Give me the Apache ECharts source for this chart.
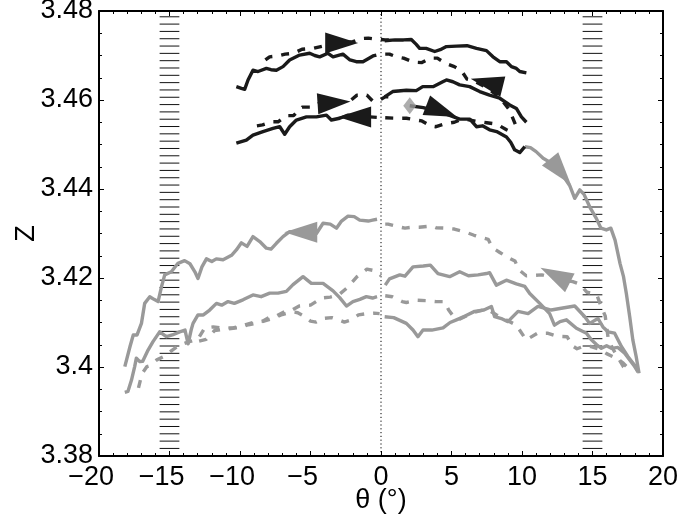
<!DOCTYPE html>
<html>
<head>
<meta charset="utf-8">
<script src="https://cdn.jsdelivr.net/npm/echarts@6/dist/echarts.min.js"></script>
<style>
html,body{margin:0;padding:0;background:#fff;}
#chart{width:700px;height:521px;}
</style>
</head>
<body>
<div id="chart"></div>
<script>
// ---------- data ----------
const xTicks = [-20, -15, -10, -5, 0, 5, 10, 15, 20];
const yTicks = [3.38, 3.40, 3.42, 3.44, 3.46, 3.48];

// black group (upper)
const upperLeftSolid = [[-10.26,3.4630],[-9.9,3.4626],[-9.67,3.4624],[-9.43,3.4645],[-9.08,3.4667],[-8.72,3.4664],[-8.13,3.4671],[-7.8,3.4668],[-7.42,3.4667],[-6.95,3.4675],[-6.48,3.4690],[-5.77,3.4701],[-5.06,3.4705],[-4.7,3.4700],[-4.35,3.4697],[-3.76,3.4705],[-3.4,3.4697],[-2.7,3.4703],[-2.2,3.4690],[-1.75,3.4686],[-1.28,3.4686],[-0.57,3.4699],[-0.33,3.4701]];
const upperLeftDashed = [[-8.2,3.4690],[-7.9,3.4697],[-7.3,3.4699],[-6.8,3.4703],[-6.2,3.4705],[-5.6,3.4714],[-4.8,3.4716],[-4.0,3.4722],[-3.0,3.4727],[-2.0,3.4731],[-1.4,3.4738],[-0.9,3.4739],[-0.4,3.4737],[0.3,3.4735],[0.6,3.4735]];
const upperRightSolid = [[0.26,3.4733],[1.0,3.4735],[1.6,3.4735],[2.15,3.4736],[2.5,3.4725],[2.74,3.4716],[3.2,3.4716],[3.81,3.4709],[4.2,3.4713],[4.64,3.4720],[5.35,3.4721],[6.1,3.4722],[6.77,3.4716],[7.48,3.4711],[7.94,3.4697],[8.42,3.4686],[8.9,3.4686],[9.25,3.4675],[9.6,3.4671],[9.84,3.4664],[10.31,3.4661]];
const upperRightDashed = [[0.3,3.4703],[0.6,3.4703],[1.1,3.4697],[1.6,3.4694],[2.3,3.4685],[2.9,3.4684],[3.5,3.4694],[4.0,3.4694],[4.6,3.4682],[5.2,3.4675],[5.7,3.4666],[6.1,3.4647],[6.5,3.4644],[7.5,3.4628],[8.4,3.4607],[9.1,3.4578],[9.6,3.4540]];

// black group (middle)
const midLeftSolid = [[-10.26,3.4503],[-9.55,3.4510],[-9.08,3.4521],[-8.37,3.4529],[-7.66,3.4536],[-7.18,3.4540],[-6.83,3.4523],[-6.48,3.4540],[-6.0,3.4555],[-5.29,3.4562],[-4.58,3.4562],[-3.87,3.4566],[-3.52,3.4555],[-2.93,3.4559],[-2.34,3.4566],[-1.5,3.4562],[-0.8,3.4562],[-0.3,3.4561]];
const midLeftDashed = [[-8.8,3.4542],[-8.4,3.4544],[-7.7,3.4551],[-7.3,3.4551],[-6.7,3.4565],[-6.2,3.4565],[-5.6,3.4584],[-4.9,3.4584],[-4.4,3.4592],[-3.0,3.4595],[-2.2,3.4598],[-1.7,3.4611],[-1.0,3.4611],[-0.6,3.4598],[-0.2,3.4598],[0.3,3.4607],[0.6,3.4607]];
const midRightSolid = [[0.26,3.4607],[0.83,3.4619],[1.8,3.4622],[2.5,3.4621],[2.96,3.4630],[3.69,3.4630],[4.38,3.4641],[4.64,3.4645],[5.1,3.4641],[5.58,3.4634],[6.29,3.4630],[7.0,3.4619],[7.7,3.4611],[8.42,3.4604],[9.13,3.4589],[9.6,3.4581],[9.96,3.4562],[10.31,3.4550]];
const midRightDashed = [[0.3,3.4560],[1.2,3.4559],[1.8,3.4559],[2.5,3.4555],[2.9,3.4553],[3.5,3.4542],[3.9,3.4540],[4.6,3.4547],[5.2,3.4550],[5.6,3.4555],[6.1,3.4556],[6.8,3.4552],[7.5,3.4549],[8.2,3.4546],[8.9,3.4533],[9.4,3.4526]];
const lowBlackSolid = [[2.04,3.4587],[3.0,3.4583],[4.3,3.4572],[5.58,3.4557],[6.3,3.4557],[6.77,3.4540],[7.2,3.4542],[7.7,3.4533],[8.2,3.4529],[8.9,3.4517],[9.2,3.4505],[9.48,3.4488],[9.84,3.4482],[10.2,3.4495]];

// gray group
const grayDescent = [[10.2,3.4495],[10.6,3.4493],[11.0,3.4484],[11.5,3.4469],[12.1,3.4458],[12.7,3.4440],[13.38,3.4408],[13.74,3.4379],[14.1,3.4398],[14.4,3.4388],[14.8,3.4360],[15.27,3.4334],[15.6,3.4312],[15.98,3.4308],[16.3,3.4312],[16.6,3.4285],[16.95,3.4233],[17.2,3.4203],[17.4,3.4165],[17.64,3.4113],[17.86,3.4061],[18.1,3.4023],[18.3,3.3986]];
const grayLeftTop = [[-18.17,3.4001],[-17.8,3.4046],[-17.57,3.4072],[-17.3,3.4072],[-16.99,3.4098],[-16.76,3.4143],[-16.4,3.4158],[-16.1,3.4152],[-15.81,3.4147],[-15.57,3.4180],[-15.34,3.4207],[-14.87,3.4214],[-14.4,3.4233],[-13.93,3.4239],[-13.55,3.4232],[-13.2,3.4214],[-12.98,3.4199],[-12.7,3.4225],[-12.38,3.4243],[-12.0,3.4237],[-11.68,3.4243],[-11.2,3.4241],[-10.6,3.4251],[-10.26,3.4263],[-9.9,3.4279],[-9.5,3.4271],[-9.08,3.4293],[-8.6,3.4282],[-8.13,3.4267],[-7.8,3.4265],[-7.42,3.4278],[-6.95,3.4293],[-6.48,3.4304],[-5.5,3.4302],[-4.58,3.4300],[-4.11,3.4323],[-3.6,3.4321],[-3.16,3.4312],[-2.8,3.4328],[-2.34,3.4339],[-1.9,3.4338],[-1.51,3.4330],[-0.9,3.4328],[-0.6,3.4330],[-0.28,3.4332]];
const grayLeftLow = [[-18.17,3.3943],[-17.95,3.3945],[-17.7,3.3970],[-17.47,3.4001],[-17.35,3.4020],[-17.11,3.4012],[-16.9,3.4013],[-16.52,3.4038],[-16.17,3.4057],[-15.7,3.4079],[-15.22,3.4068],[-14.8,3.4072],[-14.28,3.4079],[-13.9,3.4083],[-13.68,3.4052],[-13.45,3.4085],[-13.33,3.4098],[-12.98,3.4117],[-12.6,3.4117],[-12.15,3.4128],[-11.67,3.4143],[-11.3,3.4139],[-10.85,3.4147],[-10.4,3.4143],[-9.79,3.4151],[-9.08,3.4162],[-8.5,3.4158],[-7.89,3.4166],[-7.3,3.4166],[-6.71,3.4170],[-6.24,3.4185],[-5.53,3.4203],[-4.94,3.4188],[-4.11,3.4188],[-3.4,3.4171],[-2.93,3.4156],[-2.45,3.4137],[-1.99,3.4147],[-1.5,3.4152],[-1.04,3.4158],[-0.6,3.4155],[-0.28,3.4158]];
const grayLeftDashedA = [[-17.2,3.3953],[-16.95,3.3985],[-16.6,3.4001],[-16.4,3.4003],[-15.9,3.4016],[-15.3,3.4025],[-14.8,3.4038],[-14.3,3.4049],[-13.7,3.4056],[-13.0,3.4062],[-12.5,3.4088],[-11.9,3.4090],[-11.3,3.4088],[-10.5,3.4088],[-9.7,3.4094],[-9.0,3.4101],[-8.4,3.4103],[-7.9,3.4112],[-7.4,3.4115],[-6.8,3.4125],[-6.3,3.4128],[-5.8,3.4137],[-5.0,3.4139],[-4.2,3.4155],[-3.6,3.4157],[-3.0,3.4162],[-2.4,3.4178],[-1.7,3.4203],[-1.0,3.4220],[-0.4,3.4216],[0.0,3.4205]];
const grayLeftDashedB = [[-12.9,3.4058],[-12.4,3.4062],[-11.8,3.4082],[-11.0,3.4085],[-10.2,3.4088],[-9.4,3.4095],[-8.6,3.4100],[-7.8,3.4108],[-7.0,3.4118],[-6.3,3.4124],[-5.9,3.4122],[-5.5,3.4115],[-5.0,3.4103],[-4.6,3.4101],[-4.1,3.4109],[-3.5,3.4111],[-3.0,3.4106],[-2.6,3.4101],[-2.1,3.4106],[-1.6,3.4117],[-1.0,3.4120],[-0.5,3.4121],[-0.1,3.4120]];
const grayRightDashedTop = [[0.3,3.4321],[0.5,3.4321],[1.1,3.4316],[1.7,3.4312],[2.2,3.4314],[2.7,3.4314],[3.6,3.4317],[3.9,3.4313],[4.6,3.4312],[5.2,3.4310],[6.1,3.4302],[6.6,3.4296],[7.1,3.4291],[7.6,3.4287],[7.9,3.4268],[8.4,3.4258],[8.9,3.4248],[9.5,3.4238],[9.8,3.4218],[10.3,3.4205],[11.4,3.4207],[12.5,3.4198],[13.6,3.4192],[14.1,3.4186],[14.6,3.4168],[15.3,3.4163],[15.6,3.4137],[15.9,3.4115],[16.1,3.4067],[16.4,3.4043],[16.8,3.4022],[17.2,3.4000],[17.5,3.3992]];
const grayRightDashedLow = [[0.3,3.4160],[0.8,3.4158],[1.5,3.4147],[1.8,3.4145],[2.5,3.4150],[3.2,3.4149],[3.9,3.4147],[4.5,3.4147],[4.8,3.4128],[5.2,3.4111],[5.6,3.4108],[6.5,3.4122],[7.5,3.4130],[8.2,3.4117],[9.0,3.4104],[9.6,3.4094],[10.3,3.4061],[11.1,3.4076],[11.8,3.4076],[12.5,3.4069],[13.2,3.4068],[13.6,3.4047],[13.9,3.4041],[14.4,3.4047],[14.9,3.4046],[15.5,3.4040],[16.0,3.4030],[16.8,3.4018],[17.2,3.4008],[17.6,3.3995]];
const grayRightSolidA = [[0.3,3.4184],[0.6,3.4198],[1.33,3.4207],[1.7,3.4204],[2.27,3.4225],[3.0,3.4227],[3.5,3.4229],[4.04,3.4210],[4.87,3.4203],[5.58,3.4214],[6.2,3.4205],[6.88,3.4207],[7.48,3.4210],[7.7,3.4212],[8.18,3.4184],[8.89,3.4195],[9.6,3.4187],[10.2,3.4181],[10.55,3.4165],[11.26,3.4143],[11.96,3.4120],[12.3,3.4094],[12.7,3.4102],[13.15,3.4106],[13.86,3.4087],[14.57,3.4076],[14.92,3.4061],[15.3,3.4050],[15.63,3.4042],[16.0,3.4048],[16.34,3.4042],[16.8,3.4044],[17.28,3.4031],[17.64,3.4016],[17.99,3.4001],[18.23,3.3989]];
const grayRightSolidB = [[0.26,3.4113],[0.9,3.4111],[1.8,3.4098],[2.27,3.4083],[2.62,3.4068],[2.98,3.4083],[3.6,3.4083],[4.4,3.4088],[4.9,3.4100],[5.35,3.4106],[6.0,3.4115],[6.64,3.4125],[7.3,3.4128],[7.83,3.4136],[8.06,3.4113],[8.6,3.4108],[9.0,3.4102],[9.72,3.4125],[10.43,3.4120],[11.13,3.4136],[12.08,3.4128],[12.79,3.4132],[13.74,3.4137],[14.45,3.4113],[14.8,3.4098],[15.39,3.4109],[15.74,3.4090],[16.1,3.4079],[16.57,3.4076],[17.05,3.4046],[17.52,3.4023],[17.99,3.4004],[18.23,3.3989]];

// direction arrows: [x, y] and their pointing angle (deg, ccw from up)
const blackArrows = [[-2.79,3.4728],[-3.33,3.4594],[-1.87,3.4562],[4.31,3.4575],[7.5,3.4639]];
const blackArrowAngles = [-90, -86, 90, -111, 76];
const grayArrows = [[12.73,3.4439],[-5.69,3.4303],[12.35,3.4206]];
const grayArrowAngles = [-141, 90, 63];
const startDiamond = [[2.04,3.4587]];

// shaded (hatched) angular bands and the zero reference line
const hatchBands = [[-15.7,-14.3,3.4787,3.3817],[14.3,15.7,3.4787,3.3817]];
const hatchLineCount = 60;
const zeroLine = [[0,3.38],[0,3.48]];

// ---------- chart ----------
const BLACK = '#1a1a1a';
const GRAY = '#999999';
const FONT = 'Liberation Sans';
const FS = 27;
const DASH = [8, 9];
const LW = 3.4;

function curve(data, color, dashed) {
  return {
    type: 'line', data: data, symbol: 'none', showSymbol: false, silent: true,
    xAxisIndex: 0, yAxisIndex: 0, clip: true,
    lineStyle: { color: color, width: LW, type: dashed ? DASH : 'solid', cap: 'butt', join: 'round' },
    z: 3
  };
}
function arrows(pts, angles, color) {
  return {
    type: 'scatter', silent: true, xAxisIndex: 0, yAxisIndex: 0,
    symbol: 'triangle', symbolSize: [21, 33],
    itemStyle: { color: color, opacity: 1 },
    data: pts.map((p, i) => ({ value: p, symbolRotate: angles[i] })),
    z: 5
  };
}

const chart = echarts.init(document.getElementById('chart'), null, { renderer: 'canvas' });

const axisCommon = {
  type: 'value',
  axisLine: { show: true, onZero: false, lineStyle: { color: '#000', width: 2 } },
  axisTick: { show: true, inside: true, length: 5, lineStyle: { color: '#000', width: 1 } },
  minorTick: { show: true, length: 3, lineStyle: { color: '#000', width: 1 } },
  splitLine: { show: false },
  minorSplitLine: { show: false }
};

const option = {
  animation: false,
  backgroundColor: '#ffffff',
  grid: { left: 99, right: 37, top: 11, bottom: 65, containLabel: false, outerBoundsMode: 'none' },
  xAxis: [
    Object.assign({}, axisCommon, {
      min: xTicks[0], max: xTicks[xTicks.length - 1], interval: xTicks[1] - xTicks[0],
      position: 'bottom',
      minorTick: Object.assign({}, axisCommon.minorTick, { splitNumber: 5 }),
      name: 'θ (°)', nameLocation: 'middle', nameGap: 31, nameMoveOverlap: false,
      nameTextStyle: { fontFamily: FONT, fontSize: FS, color: '#000' },
      axisLabel: {
        show: true, margin: 8, fontFamily: FONT, fontSize: FS, color: '#000',
        formatter: v => v < 0 ? '−' + Math.abs(v) + '{g|−}' : String(v),
        rich: { g: { color: 'rgba(0,0,0,0)', fontFamily: FONT, fontSize: FS } }
      }
    }),
    Object.assign({}, axisCommon, {
      min: xTicks[0], max: xTicks[xTicks.length - 1], interval: xTicks[1] - xTicks[0],
      position: 'top',
      minorTick: Object.assign({}, axisCommon.minorTick, { splitNumber: 5 }),
      axisLabel: { show: false }
    })
  ],
  yAxis: [
    Object.assign({}, axisCommon, {
      min: yTicks[0], max: yTicks[yTicks.length - 1], interval: 0.02,
      position: 'left',
      minorTick: Object.assign({}, axisCommon.minorTick, { splitNumber: 4 }),
      name: 'Z', nameLocation: 'middle', nameGap: 59, nameRotate: 90, nameMoveOverlap: false,
      nameTextStyle: { fontFamily: FONT, fontSize: FS, color: '#000' },
      axisLabel: {
        show: true, margin: 6, fontFamily: FONT, fontSize: FS, color: '#000',
        padding: [5, 0, 0, 0],
        formatter: v => String(parseFloat(v.toFixed(2)))
      }
    }),
    Object.assign({}, axisCommon, {
      min: yTicks[0], max: yTicks[yTicks.length - 1], interval: 0.02,
      position: 'right',
      minorTick: Object.assign({}, axisCommon.minorTick, { splitNumber: 4 }),
      axisLabel: { show: false }
    })
  ],
  series: [
    {
      type: 'custom', silent: true, xAxisIndex: 0, yAxisIndex: 0, z: 1,
      data: hatchBands,
      encode: { x: [0, 1], y: [2, 3] },
      renderItem: function (params, api) {
        const p0 = api.coord([api.value(0), api.value(2)]);
        const p1 = api.coord([api.value(1), api.value(3)]);
        const step = (p1[1] - p0[1]) / (hatchLineCount - 1);
        const children = [];
        for (let i = 0; i < hatchLineCount; i++) {
          const y = p0[1] + i * step;
          children.push({
            type: 'line',
            shape: { x1: p0[0], y1: y, x2: p1[0], y2: y },
            style: { stroke: '#111', lineWidth: 1 }
          });
        }
        return { type: 'group', children: children };
      }
    },
    {
      type: 'line', data: zeroLine, symbol: 'none', silent: true, z: 2,
      lineStyle: { color: '#000', width: 1, type: [1.2, 2.6] }
    },
    curve(grayLeftTop, GRAY, false),
    curve(grayLeftLow, GRAY, false),
    curve(grayLeftDashedA, GRAY, true),
    curve(grayLeftDashedB, GRAY, true),
    curve(grayRightDashedTop, GRAY, true),
    curve(grayRightDashedLow, GRAY, true),
    curve(grayRightSolidA, GRAY, false),
    curve(grayRightSolidB, GRAY, false),
    curve(grayDescent, GRAY, false),
    curve(upperLeftSolid, BLACK, false),
    curve(upperLeftDashed, BLACK, true),
    curve(upperRightSolid, BLACK, false),
    curve(upperRightDashed, BLACK, true),
    curve(midLeftSolid, BLACK, false),
    curve(midLeftDashed, BLACK, true),
    curve(midRightSolid, BLACK, false),
    curve(midRightDashed, BLACK, true),
    curve(lowBlackSolid, BLACK, false),
    arrows(blackArrows, blackArrowAngles, BLACK),
    arrows(grayArrows, grayArrowAngles, GRAY),
    {
      type: 'scatter', silent: true, data: startDiamond, symbol: 'diamond',
      symbolSize: [13, 17], itemStyle: { color: GRAY }, z: 6
    }
  ]
};
chart.setOption(option);
</script>
</body>
</html>
